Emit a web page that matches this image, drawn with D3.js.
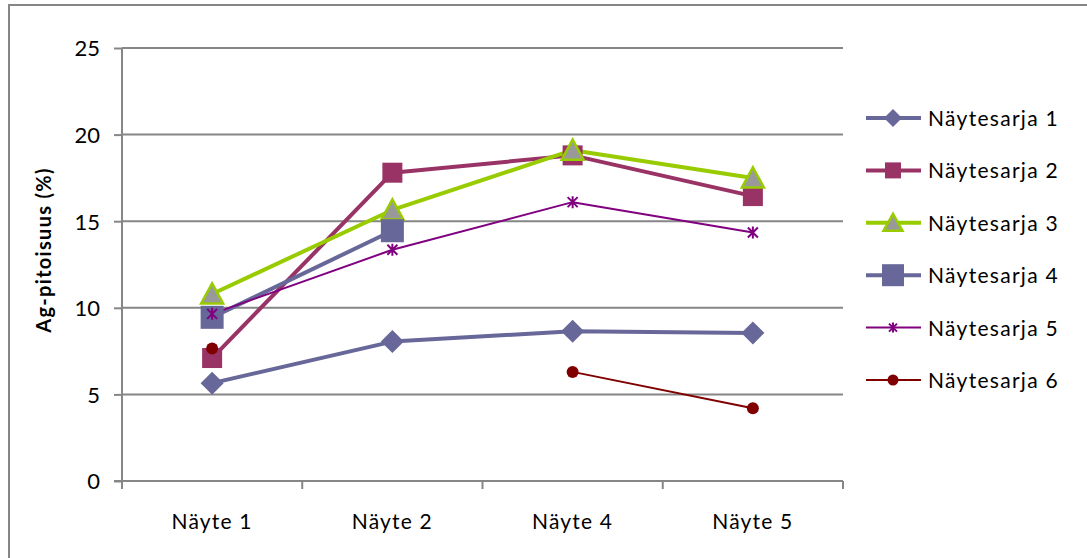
<!DOCTYPE html>
<html>
<head>
<meta charset="utf-8">
<script src="https://cdn.jsdelivr.net/npm/d3@7"></script>
<style>
  html, body { margin: 0; padding: 0; background: #fff; }
  svg { display: block; }
  text { font-family: Lato, "Open Sans", sans-serif; fill: #000; }
</style>
</head>
<body>
<svg id="chart" width="1087" height="558"></svg>
<script>
// Samples on the x axis
const categories = ["Näyte 1", "Näyte 2", "Näyte 4", "Näyte 5"];
// Y axis ticks
const yTicks = [0, 5, 10, 15, 20, 25];
// Series names
const seriesNames = ["Näytesarja 1", "Näytesarja 2", "Näytesarja 3", "Näytesarja 4", "Näytesarja 5", "Näytesarja 6"];
// Silver content per sample (null = no measurement)
const sarja1 = [5.65, 8.05, 8.65, 8.55];
const sarja2 = [7.1, 17.8, 18.8, 16.45];
const sarja3 = [10.8, 15.65, 19.1, 17.5];
const sarja4 = [9.45, 14.45, null, null];
const sarja5 = [9.65, 13.35, 16.1, 14.35];
const sarja6 = [7.65, null, 6.3, 4.2];

const values = [sarja1, sarja2, sarja3, sarja4, sarja5, sarja6];

const styles = [
  { stroke: "#676799", width: 4, marker: "diamond", fill: "#676799", mstroke: "none", size: 23 },
  { stroke: "#993366", width: 4, marker: "square", fill: "#993366", mstroke: "none", size: 20 },
  { stroke: "#99cc00", width: 4, marker: "triangle", fill: "#999999", mstroke: "#99cc00", size: 20 },
  { stroke: "#676799", width: 4, marker: "bigsquare", fill: "#676799", mstroke: "none", size: 23 },
  { stroke: "#800080", width: 2, marker: "star", fill: "none", mstroke: "#800080", size: 10 },
  { stroke: "#800000", width: 2, marker: "circle", fill: "#800000", mstroke: "none", size: 12 }
];

const FONT = "Lato, 'Open Sans', sans-serif";
const svg = d3.select("#chart");

// Outer chart frame
svg.append("rect")
  .attr("x", 9).attr("y", 5)
  .attr("width", 1100).attr("height", 600)
  .attr("fill", "none").attr("stroke", "#868686").attr("stroke-width", 2);

const plot = { left: 122, right: 843, top: 48, bottom: 481 };

const x = d3.scaleBand().domain(categories).range([plot.left, plot.right]);
const y = d3.scaleLinear().domain([0, 25]).range([plot.bottom, plot.top]);

// Horizontal gridlines
svg.append("g")
  .selectAll("line")
  .data(yTicks.filter(t => t > 0))
  .join("line")
  .attr("x1", plot.left).attr("x2", plot.right)
  .attr("y1", d => y(d)).attr("y2", d => y(d))
  .attr("stroke", "#868686").attr("stroke-width", 2);

// Y axis
const yAxis = svg.append("g")
  .attr("transform", `translate(${plot.left},0)`)
  .call(d3.axisLeft(y).tickValues(yTicks).tickSize(8).tickPadding(14));
yAxis.select(".domain").attr("stroke", "#868686").attr("stroke-width", 2)
  .attr("d", `M0,${plot.top}V${plot.bottom + 7}`);
yAxis.selectAll(".tick line").attr("stroke", "#868686").attr("stroke-width", 2);
yAxis.selectAll(".tick text")
  .style("font-size", "22px").style("font-family", FONT)
  .attr("dy", "0.36em").attr("fill", "#000");

// X axis with ticks at category boundaries
const xAxis = svg.append("g")
  .attr("transform", `translate(0,${plot.bottom})`)
  .call(d3.axisBottom(x).tickSize(0).tickPadding(30));
xAxis.select(".domain").attr("stroke", "#868686").attr("stroke-width", 2)
  .attr("d", `M${plot.left - 8},0H${plot.right}`);
xAxis.selectAll(".tick text")
  .style("font-size", "21px").style("font-family", FONT)
  .style("letter-spacing", "1.2px")
  .attr("y", 48).attr("dy", 0).attr("fill", "#000");
const boundaries = categories.map(c => x(c)).concat([x(categories[categories.length - 1]) + x.bandwidth()]);
svg.append("g").selectAll("line")
  .data(boundaries)
  .join("line")
  .attr("x1", d => d).attr("x2", d => d)
  .attr("y1", plot.bottom).attr("y2", plot.bottom + 8)
  .attr("stroke", "#868686").attr("stroke-width", 2);

// Y axis title
svg.append("text")
  .attr("transform", `translate(51,250) rotate(-90)`)
  .attr("text-anchor", "middle")
  .style("font-size", "20px").style("font-weight", "bold")
  .style("letter-spacing", "1.3px")
  .text("Ag-pitoisuus (%)");

function drawMarker(g, st, cx, cy) {
  const s = st.size;
  if (st.marker === "diamond") {
    const h = s / 2;
    g.append("path").attr("d", `M${cx},${cy - h}L${cx + h},${cy}L${cx},${cy + h}L${cx - h},${cy}Z`).attr("fill", st.fill);
  } else if (st.marker === "square" || st.marker === "bigsquare") {
    g.append("rect").attr("x", cx - s / 2).attr("y", cy - s / 2).attr("width", s).attr("height", s).attr("fill", st.fill);
  } else if (st.marker === "triangle") {
    const w = s + 2, h = s - 1;
    g.append("path").attr("d", `M${cx},${cy - h / 2 - 1}L${cx + w / 2},${cy + h / 2}L${cx - w / 2},${cy + h / 2}Z`)
      .attr("fill", st.fill).attr("stroke", st.mstroke).attr("stroke-width", 2.5).attr("stroke-linejoin", "miter");
  } else if (st.marker === "star") {
    const h = s / 2;
    g.append("path").attr("d",
      `M${cx - h},${cy - h}L${cx + h},${cy + h}M${cx - h},${cy + h}L${cx + h},${cy - h}M${cx},${cy - h - 1}V${cy + h + 1}`)
      .attr("stroke", st.mstroke).attr("stroke-width", 2).attr("fill", "none");
  } else if (st.marker === "circle") {
    g.append("circle").attr("cx", cx).attr("cy", cy).attr("r", s / 2).attr("fill", st.fill);
  }
}

const cxOf = c => x(c) + x.bandwidth() / 2;

// Lines first, then markers on top in series order
values.forEach((vals, i) => {
  const st = styles[i];
  const line = d3.line()
    .defined(d => d.v !== null)
    .x(d => cxOf(d.c))
    .y(d => y(d.v));
  svg.append("path")
    .datum(categories.map((c, j) => ({ c, v: vals[j] })))
    .attr("d", line)
    .attr("fill", "none")
    .attr("stroke", st.stroke)
    .attr("stroke-width", st.width)
    .attr("stroke-linejoin", "round");
});
values.forEach((vals, i) => {
  const g = svg.append("g");
  vals.forEach((v, j) => {
    if (v !== null) drawMarker(g, styles[i], cxOf(categories[j]), y(v));
  });
});

// Legend
const legend = svg.append("g");
const legendY = d3.scalePoint().domain(seriesNames).range([118, 380]);
seriesNames.forEach((name, i) => {
  const st = styles[i];
  const ly = legendY(name);
  const g = legend.append("g");
  g.append("line").attr("x1", 866).attr("x2", 921).attr("y1", ly).attr("y2", ly)
    .attr("stroke", st.stroke).attr("stroke-width", st.width);
  const mst = Object.assign({}, st, { size: st.marker === "bigsquare" ? 22 : st.marker === "star" ? 8 : st.marker === "circle" ? 11 : st.marker === "square" ? 16 : st.marker === "triangle" ? 17 : 18 });
  drawMarker(g, mst, 893, ly);
  g.append("text").attr("x", 928).attr("y", ly + 8)
    .style("font-size", "21px")
    .style("letter-spacing", "1.3px")
    .text(name);
});
</script>
</body>
</html>
